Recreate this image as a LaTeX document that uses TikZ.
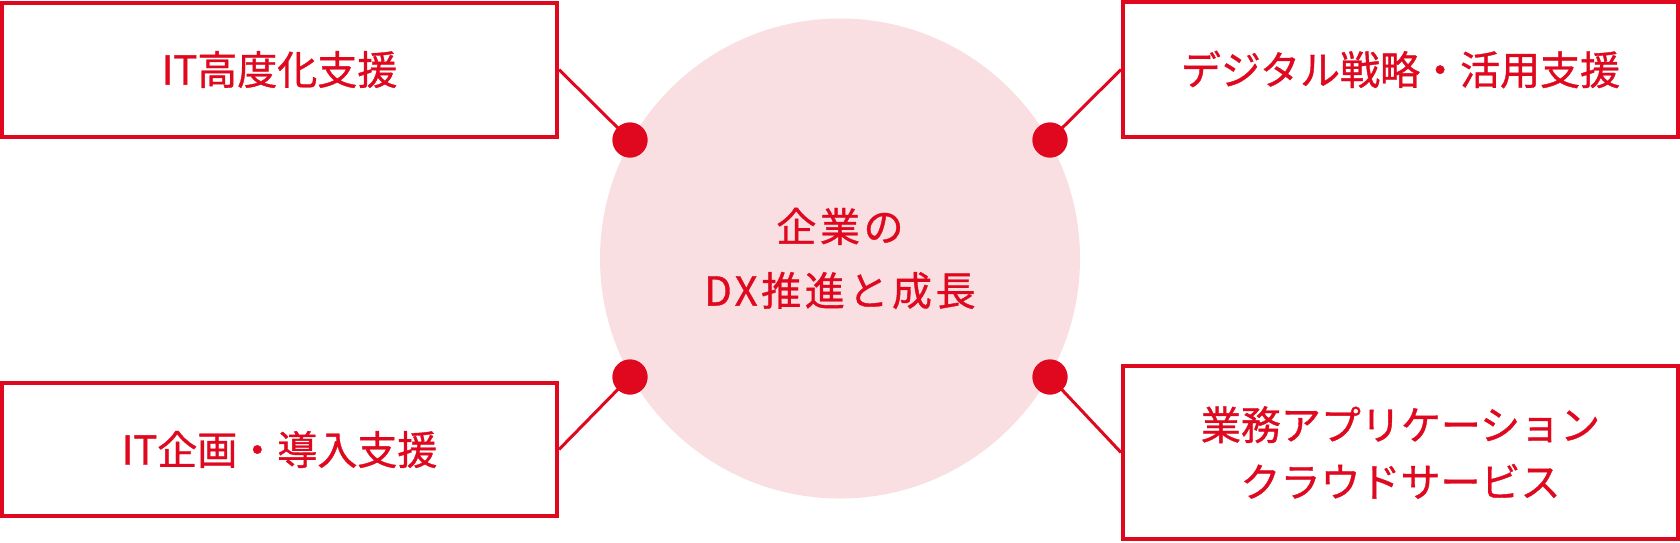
\documentclass[tikz,border=0pt]{standalone}
\usepackage{fontspec}
\setmainfont{Noto Sans CJK JP}[FakeBold=0.9]
\definecolor{dxred}{HTML}{E0081F}
\definecolor{dxpink}{HTML}{F9DEE2}
\tikzset{
  svcbox/.style={draw=dxred, line width=4pt, fill=white, inner sep=0pt,
    minimum width=555pt, text=dxred, align=center,
    font=\fontsize{40}{57}\selectfont},
  joint/.style={circle, fill=dxred, inner sep=0pt, minimum size=35pt},
  link/.style={draw=dxred, line width=3pt},
}
\begin{document}
\begin{tikzpicture}[x=1pt,y=-1pt]
\useasboundingbox (0,0) rectangle (1680,542);
\node[circle, fill=dxpink, inner sep=0pt, minimum size=480pt,
  text=dxred, align=center,
  font=\fontsize{40}{64}\selectfont\addfontfeature{LetterSpace=9}] (hub) at (840,258.5)
  {企業の\\DX推進と成長};
\node[svcbox, minimum height=134pt] (b1) at (279.5,69.5) {IT高度化支援};
\node[svcbox, minimum height=135pt] (b2) at (1400.5,69.5) {デジタル戦略・活用支援};
\node[svcbox, minimum height=133pt] (b3) at (279.5,449.5) {IT企画・導入支援};
\node[svcbox, minimum height=173pt] (b4) at (1400.5,452.5) {業務アプリケーション\\クラウドサービス};
\node[joint] (d1) at (630,140) {};
\node[joint] (d2) at (1050,140) {};
\node[joint] (d3) at (630,377) {};
\node[joint] (d4) at (1050,377) {};
\draw[link] (b1.east) -- (d1.center);
\draw[link] (b2.west) -- (d2.center);
\draw[link] (b3.east) -- (d3.center);
\draw[link] (b4.west) -- (d4.center);
\node[joint] at (d1) {};
\node[joint] at (d2) {};
\node[joint] at (d3) {};
\node[joint] at (d4) {};
\end{tikzpicture}
\end{document}
